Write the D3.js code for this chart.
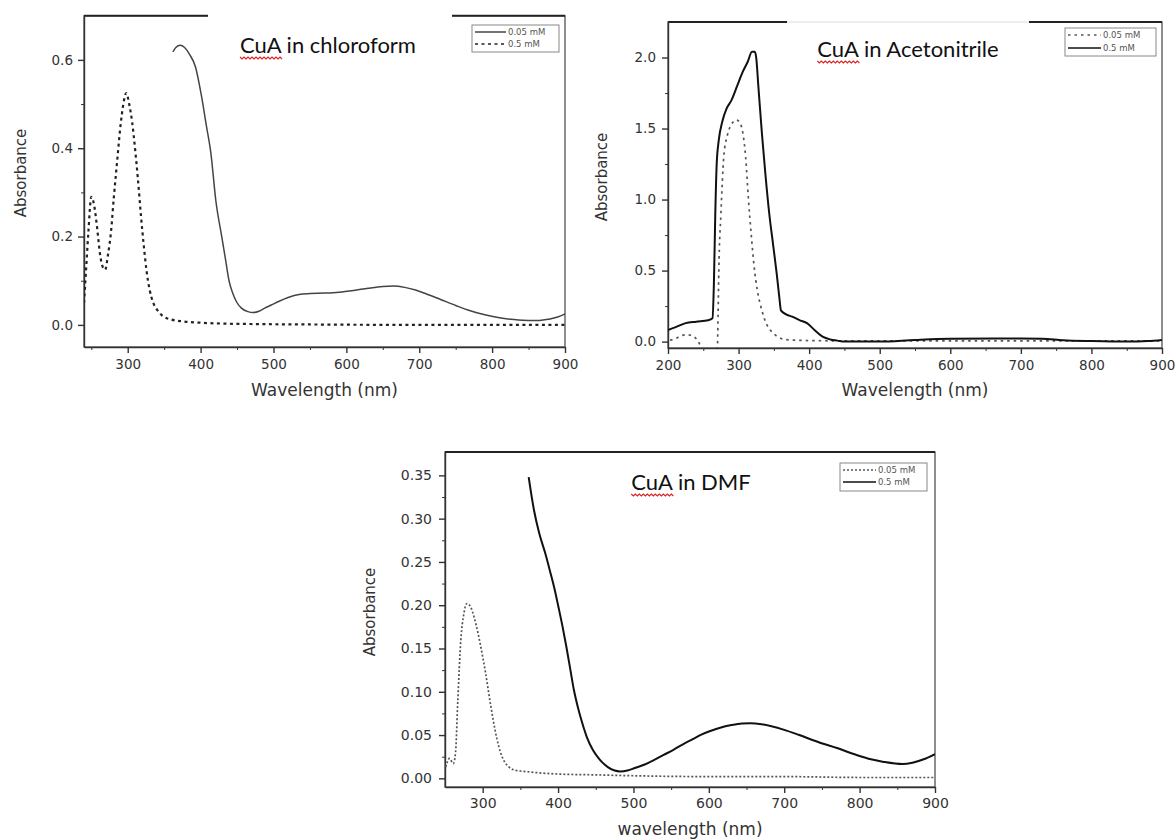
<!DOCTYPE html>
<html>
<head>
<meta charset="utf-8">
<script src="https://cdn.jsdelivr.net/npm/d3@7"></script>
<style>
  body { margin: 0; background: #fff; }
  svg { display: block; font-family: "DejaVu Sans", Arial, sans-serif; }
  .tick text { fill: #333; }
  .tick line, .domain { stroke: #333; }
</style>
</head>
<body>
<script>
// ---- values ([wavelength nm, absorbance]) ----
const chloroform005 = [[362,0.618],[366,0.628],[372,0.633],[378,0.628],[385,0.612],[393,0.584],[401,0.52],[408,0.45],[414,0.39],[421,0.28],[429,0.2],[434,0.15],[439,0.1],[444,0.072],[449,0.053],[456,0.038],[465,0.03],[472,0.028],[480,0.031],[488,0.038],[497,0.045],[507,0.053],[520,0.062],[535,0.069],[550,0.071],[570,0.072],[590,0.074],[610,0.078],[630,0.083],[650,0.087],[665,0.088],[680,0.085],[695,0.079],[710,0.07],[730,0.057],[750,0.044],[770,0.032],[790,0.023],[810,0.016],[830,0.012],[850,0.01],[865,0.01],[878,0.013],[890,0.018],[900,0.025]];
const chloroform05 = [[240,0.05],[243,0.13],[246,0.21],[250,0.29],[254,0.27],[258,0.22],[262,0.16],[266,0.13],[269,0.125],[273,0.16],[277,0.21],[281,0.29],[286,0.38],[290,0.45],[294,0.5],[298,0.525],[302,0.5],[306,0.46],[310,0.4],[314,0.33],[318,0.25],[322,0.18],[326,0.12],[330,0.08],[335,0.05],[340,0.035],[348,0.02],[360,0.012],[375,0.008],[400,0.005],[430,0.003],[470,0.002],[550,0.001],[700,0.0],[900,0.0]];

const acetonitrile005 = [[203,0.01],[210,0.02],[218,0.04],[225,0.048],[232,0.045],[238,0.03],[243,0.0],[247,-0.04],[252,-0.1],[268,-0.1],[270,-0.04],[271,0.2],[272,0.5],[275,0.9],[279,1.3],[284,1.45],[290,1.53],[297,1.56],[302,1.54],[306,1.47],[310,1.3],[314,1.0],[318,0.75],[322,0.53],[327,0.35],[333,0.22],[340,0.12],[349,0.06],[357,0.03],[365,0.015],[380,0.01],[420,0.006],[500,0.005],[900,0.005]];
const acetonitrile05 = [[200,0.082],[210,0.1],[225,0.13],[240,0.14],[257,0.15],[263,0.164],[265,0.4],[267,0.9],[269,1.25],[272,1.42],[277,1.55],[283,1.64],[290,1.7],[298,1.8],[306,1.9],[313,1.97],[319,2.04],[323,2.04],[325,2.0],[328,1.8],[333,1.47],[338,1.18],[343.5,0.9],[349,0.68],[354,0.48],[358,0.3],[360,0.22],[368,0.19],[376,0.176],[387,0.15],[397,0.13],[408,0.08],[419,0.035],[430,0.015],[440,0.007],[450,0.0],[500,0.0],[550,0.012],[600,0.02],[700,0.022],[730,0.02],[760,0.01],[800,0.004],[850,0.0],[880,0.004],[900,0.012]];

const dmf005 = [[251,0.013],[256,0.023],[261,0.017],[264,0.03],[267,0.09],[271,0.16],[275,0.19],[279,0.202],[284,0.198],[289,0.185],[294,0.167],[299,0.145],[304,0.121],[309,0.093],[314,0.067],[319,0.045],[324,0.029],[329,0.019],[335,0.013],[345,0.009],[355,0.008],[380,0.006],[400,0.005],[450,0.004],[500,0.003],[600,0.002],[700,0.002],[800,0.001],[900,0.001]];
const dmf05 = [[361,0.348],[368,0.31],[375,0.283],[383,0.26],[390,0.237],[395,0.22],[400.5,0.198],[406,0.175],[411,0.152],[416,0.127],[421,0.102],[426,0.083],[431,0.067],[438,0.048],[446,0.033],[455,0.022],[466,0.013],[475,0.009],[482,0.008],[492,0.009],[502,0.012],[515,0.016],[527,0.021],[540,0.027],[553,0.033],[565,0.039],[578,0.045],[590,0.0505],[603,0.055],[615,0.0585],[630,0.0615],[644,0.0633],[655,0.0636],[670,0.0625],[700,0.056],[720,0.05],[745,0.042],[770,0.035],[796,0.027],[815,0.022],[832,0.019],[857,0.0165],[870,0.018],[885,0.022],[900,0.028]];

const legendLabels = ['0.05 mM', '0.5 mM'];
const titles = ['CuA in chloroform', 'CuA in Acetonitrile', 'CuA in DMF'];
const xTicksTop = [300, 400, 500, 600, 700, 800, 900];
const xTicksAcn = [200, 300, 400, 500, 600, 700, 800, 900];
const yTicksChloro = [0.0, 0.2, 0.4, 0.6];
const yTicksAcn = [0.0, 0.5, 1.0, 1.5, 2.0];
const yTicksDmf = [0.00, 0.05, 0.10, 0.15, 0.20, 0.25, 0.30, 0.35];

const svg = d3.select('body').append('svg')
  .attr('width', 1175)
  .attr('height', 839);

const panels = [
  {
    id: 1, left: 84, right: 565, top: 15.7, bottom: 347,
    xDomain: [240, 900], yDomain: [-0.05, 0.70],
    xTicks: xTicksTop, xMinor: d3.range(250, 900, 100),
    yTicks: yTicksChloro, yMinor: [0.1, 0.3, 0.5], yFormat: '.1f',
    tickFont: 13.5, xPad: 6, yPad: 5,
    xLabel: 'Wavelength (nm)', xLabelY: 396, yLabelX: 21, yLabelY: 173,
    title: titles[0], titleX: 328, titleY: 53, titleBox: [208, 452], titleBoxStroke: 'none',
    series: [
      { values: chloroform005, color: '#444', width: 1.5, dash: null },
      { values: chloroform05, color: '#222', width: 2.2, dash: '3,3.5' }
    ],
    legend: { x: 472, y: 25, w: 87, h: 27, rows: [32, 44], lineW: 31 }
  },
  {
    id: 2, left: 668, right: 1162, top: 22, bottom: 348,
    xDomain: [200, 900], yDomain: [-0.045, 2.25],
    xTicks: xTicksAcn, xMinor: d3.range(250, 900, 100),
    yTicks: yTicksAcn, yMinor: [0.25, 0.75, 1.25, 1.75], yFormat: '.1f',
    tickFont: 13.5, xPad: 6, yPad: 6,
    xLabel: 'Wavelength (nm)', xLabelY: 396, yLabelX: 602, yLabelY: 177,
    title: titles[1], titleX: 908, titleY: 57, titleBox: [787, 1029], titleBoxStroke: '#ddd',
    series: [
      { values: acetonitrile005, color: '#555', width: 1.7, dash: '2.5,4' },
      { values: acetonitrile05, color: '#111', width: 2, dash: null }
    ],
    legend: { x: 1065, y: 28, w: 91, h: 28, rows: [35, 48], lineW: 33 }
  },
  {
    id: 3, left: 445, right: 935, top: 452, bottom: 787,
    xDomain: [250, 900], yDomain: [-0.01, 0.377],
    xTicks: xTicksTop, xMinor: d3.range(350, 900, 100),
    yTicks: yTicksDmf, yMinor: d3.range(0.025, 0.36, 0.05), yFormat: '.2f',
    tickFont: 14, xPad: 5, yPad: 7,
    xLabel: 'wavelength (nm)', xLabelY: 835, yLabelX: 370, yLabelY: 612,
    title: titles[2], titleX: 691, titleY: 490, titleBox: null,
    series: [
      { values: dmf005, color: '#555', width: 1.7, dash: '2,2' },
      { values: dmf05, color: '#111', width: 2, dash: null }
    ],
    legend: { x: 840, y: 463, w: 87, h: 28, rows: [470, 482], lineW: 33 }
  }
];

panels.forEach(drawPanel);

function drawPanel(p) {
  const x = d3.scaleLinear().domain(p.xDomain).range([p.left, p.right]);
  const y = d3.scaleLinear().domain(p.yDomain).range([p.bottom, p.top]);
  const g = svg.append('g');

  g.append('clipPath').attr('id', 'clip' + p.id)
    .append('rect')
    .attr('x', p.left).attr('y', p.top)
    .attr('width', p.right - p.left).attr('height', p.bottom - p.top);

  // frame
  g.append('rect')
    .attr('x', p.left).attr('y', p.top)
    .attr('width', p.right - p.left).attr('height', p.bottom - p.top)
    .attr('fill', 'none').attr('stroke', '#444').attr('stroke-width', 1.2);
  g.append('line')
    .attr('x1', p.left).attr('x2', p.right).attr('y1', p.top).attr('y2', p.top)
    .attr('stroke', '#222').attr('stroke-width', 2);

  // minor ticks
  g.append('g').attr('transform', `translate(0,${p.bottom})`)
    .call(d3.axisBottom(x).tickValues(p.xMinor).tickSize(3).tickFormat(''))
    .call(a => a.select('.domain').remove());
  g.append('g').attr('transform', `translate(${p.left},0)`)
    .call(d3.axisLeft(y).tickValues(p.yMinor).tickSize(3).tickFormat(''))
    .call(a => a.select('.domain').remove());

  // major axes
  const xa = g.append('g').attr('transform', `translate(0,${p.bottom})`)
    .call(d3.axisBottom(x).tickValues(p.xTicks).tickSize(6).tickPadding(p.xPad).tickSizeOuter(0));
  const ya = g.append('g').attr('transform', `translate(${p.left},0)`)
    .call(d3.axisLeft(y).tickValues(p.yTicks).tickSize(6).tickPadding(p.yPad).tickSizeOuter(0)
      .tickFormat(d3.format(p.yFormat)));
  [xa, ya].forEach(a => a.selectAll('text')
    .style('font-size', p.tickFont + 'px')
    .style('font-family', '"DejaVu Sans", Arial, sans-serif'));
  xa.select('.domain').attr('stroke-width', 1.4);
  ya.select('.domain').attr('stroke-width', 1.4);
  xa.selectAll('.tick line').attr('stroke-width', 1.4);
  ya.selectAll('.tick line').attr('stroke-width', 1.4);

  // axis titles
  g.append('text')
    .attr('x', (p.left + p.right) / 2).attr('y', p.xLabelY)
    .attr('text-anchor', 'middle')
    .style('font-size', '17px').attr('fill', '#333')
    .text(p.xLabel);
  g.append('text')
    .attr('transform', `translate(${p.yLabelX},${p.yLabelY}) rotate(-90)`)
    .attr('text-anchor', 'middle').attr('dy', '0.35em')
    .style('font-size', '15px').attr('fill', '#333')
    .text('Absorbance');

  // spectra
  const line = d3.line()
    .x(d => x(d[0]))
    .y(d => y(d[1]))
    .curve(d3.curveMonotoneX);
  p.series.forEach(s => {
    g.append('path')
      .datum(s.values)
      .attr('clip-path', `url(#clip${p.id})`)
      .attr('d', line)
      .attr('fill', 'none')
      .attr('stroke', s.color)
      .attr('stroke-width', s.width)
      .attr('stroke-dasharray', s.dash)
      .attr('stroke-linejoin', 'round');
  });

  // white cut-out for the pasted title
  if (p.titleBox) {
    g.append('rect')
      .attr('x', p.titleBox[0]).attr('y', p.top - 2)
      .attr('width', p.titleBox[1] - p.titleBox[0]).attr('height', 5)
      .attr('fill', '#fff');
    if (p.titleBoxStroke !== 'none') {
      g.append('line')
        .attr('x1', p.titleBox[0]).attr('x2', p.titleBox[1])
        .attr('y1', p.top).attr('y2', p.top)
        .attr('stroke', p.titleBoxStroke).attr('stroke-width', 1);
    }
  }

  // title, with the red spell-check squiggle under "CuA"
  const t = g.append('text')
    .attr('x', p.titleX).attr('y', p.titleY)
    .attr('text-anchor', 'middle')
    .style('font-family', 'Lato, "Open Sans", sans-serif')
    .style('font-size', '22px').attr('fill', '#111');
  t.append('tspan').text('CuA');
  t.append('tspan').text(p.title.slice(3));
  const node = t.node();
  const start = node.getStartPositionOfChar(0).x;
  const cuaW = node.getSubStringLength(0, 3);
  let d = `M${start},${p.titleY + 4}`;
  for (let i = 0, k = 0; i < cuaW; i += 2, k++) {
    d += ` L${start + i + 2},${p.titleY + (k % 2 ? 4 : 6)}`;
  }
  g.append('path').attr('d', d).attr('fill', 'none')
    .attr('stroke', '#d22').attr('stroke-width', 1.2);

  // legend
  const L = p.legend;
  const lg = g.append('g');
  lg.append('rect')
    .attr('x', L.x).attr('y', L.y).attr('width', L.w).attr('height', L.h)
    .attr('fill', '#fff').attr('stroke', '#888').attr('stroke-width', 1);
  p.series.forEach((s, i) => {
    lg.append('line')
      .attr('x1', L.x + 3).attr('x2', L.x + 3 + L.lineW)
      .attr('y1', L.rows[i]).attr('y2', L.rows[i])
      .attr('stroke', s.color).attr('stroke-width', Math.min(s.width, 1.6))
      .attr('stroke-dasharray', s.dash);
    lg.append('text')
      .attr('x', L.x + 5 + L.lineW).attr('y', L.rows[i]).attr('dy', '0.35em')
      .style('font-size', '8.5px').attr('fill', '#555')
      .text(legendLabels[i]);
  });
}
</script>
</body>
</html>
